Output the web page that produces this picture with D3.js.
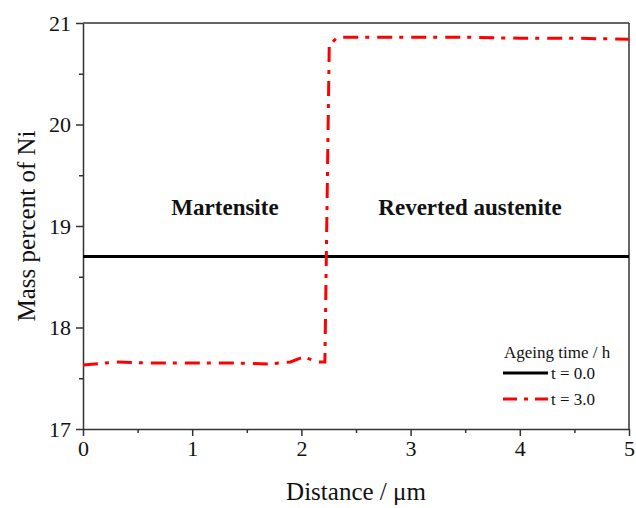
<!DOCTYPE html>
<html>
<head>
<meta charset="utf-8">
<script src="https://d3js.org/d3.v7.min.js"></script>
<style>
  body { margin: 0; background: #fff; }
</style>
</head>
<body>
<svg id="chart"></svg>
<script>
// data
var xRed = [0, 0.3, 0.6, 1.0, 1.4, 1.7, 1.9, 2.02, 2.15, 2.215, 2.255, 2.33, 2.6, 3.0, 3.5, 4.0, 4.5, 5.0];
var yRed = [17.63, 17.66, 17.65, 17.65, 17.65, 17.64, 17.66, 17.71, 17.66, 17.66, 20.78, 20.86, 20.86, 20.86, 20.86, 20.85, 20.85, 20.84];
var xBlack = [0, 5];
var yBlack = [18.7, 18.7];
var xTicks = [0, 1, 2, 3, 4, 5];
var yTicks = [17, 18, 19, 20, 21];
var seriesNames = ["t = 0.0", "t = 3.0"];

var W = 636, H = 508;
var m = {left: 83, right: 7, top: 23, bottom: 79};
var fontSerif = "Liberation Serif";

var svg = d3.select("#chart").attr("width", W).attr("height", H);

var x = d3.scaleLinear().domain([0, 5]).range([m.left, W - m.right]);
var y = d3.scaleLinear().domain([17, 21]).range([H - m.bottom, m.top]);

var axisColor = "#333";

// minor ticks
svg.append("g")
   .attr("transform", "translate(0," + (H - m.bottom) + ")")
   .call(d3.axisBottom(x).tickValues(d3.range(0.5, 5, 1)).tickSize(4).tickFormat(""))
   .call(g => g.select(".domain").remove())
   .selectAll("line").attr("stroke", axisColor).attr("stroke-width", 1.5);
svg.append("g")
   .attr("transform", "translate(" + m.left + ",0)")
   .call(d3.axisLeft(y).tickValues(d3.range(17.5, 21, 1)).tickSize(4).tickFormat(""))
   .call(g => g.select(".domain").remove())
   .selectAll("line").attr("stroke", axisColor).attr("stroke-width", 1.5);

// major axes
var xAx = svg.append("g")
   .attr("transform", "translate(0," + (H - m.bottom) + ")")
   .call(d3.axisBottom(x).tickValues(xTicks).tickSize(7).tickPadding(4).tickSizeOuter(0).tickFormat(d3.format("d")));
var yAx = svg.append("g")
   .attr("transform", "translate(" + m.left + ",0)")
   .call(d3.axisLeft(y).tickValues(yTicks).tickSize(7).tickPadding(5).tickSizeOuter(0).tickFormat(d3.format("d")));
[xAx, yAx].forEach(function(a) {
  a.attr("font-family", fontSerif).attr("font-size", 22);
  a.select(".domain").attr("stroke", axisColor).attr("stroke-width", 1.5);
  a.selectAll("line").attr("stroke", axisColor).attr("stroke-width", 1.5);
  a.selectAll("text").attr("fill", "#111");
});

// top and right frame
svg.append("line").attr("x1", m.left).attr("x2", W - m.right)
   .attr("y1", m.top).attr("y2", m.top)
   .attr("stroke", axisColor).attr("stroke-width", 1.5);
svg.append("line").attr("x1", W - m.right).attr("x2", W - m.right)
   .attr("y1", m.top).attr("y2", H - m.bottom)
   .attr("stroke", axisColor).attr("stroke-width", 1.5);

var line = d3.line().x(d => x(d[0])).y(d => y(d[1]));

svg.append("path")
   .datum(d3.zip(xBlack, yBlack))
   .attr("d", line)
   .attr("fill", "none").attr("stroke", "#000").attr("stroke-width", 3);

svg.append("path")
   .datum(d3.zip(xRed, yRed))
   .attr("d", line)
   .attr("fill", "none").attr("stroke", "#ff0000").attr("stroke-width", 3)
   .attr("stroke-dasharray", "15,7,4,8");

function label(parent, px, py, size, str) {
  return parent.append("text")
    .attr("x", px).attr("y", py)
    .attr("font-family", fontSerif)
    .attr("font-size", size)
    .attr("fill", "#111")
    .text(str);
}

// axis titles
label(svg, (m.left + W - m.right) / 2, 500, 25, "Distance / \u03bcm")
   .attr("text-anchor", "middle");
label(svg, 0, 0, 25, "Mass percent of Ni")
   .attr("transform", "translate(35," + ((m.top + H - m.bottom) / 2) + ") rotate(-90)")
   .attr("text-anchor", "middle");

// region labels
label(svg, 225, 215, 23, "Martensite")
   .attr("text-anchor", "middle").attr("font-weight", "bold");
label(svg, 470, 215, 23, "Reverted austenite")
   .attr("text-anchor", "middle").attr("font-weight", "bold");

// legend
var lg = svg.append("g");
label(lg, 504, 358, 17, "Ageing time / h");
var legendRows = [
  {name: seriesNames[0], color: "#000", dash: null, y: 373},
  {name: seriesNames[1], color: "#ff0000", dash: "14,7,4,7", y: 399}
];
legendRows.forEach(function(r) {
  lg.append("line").attr("x1", 503).attr("x2", 548).attr("y1", r.y).attr("y2", r.y)
    .attr("stroke", r.color).attr("stroke-width", 3)
    .attr("stroke-dasharray", r.dash);
  label(lg, 551, r.y + 6, 17, r.name);
});
</script>
</body>
</html>
